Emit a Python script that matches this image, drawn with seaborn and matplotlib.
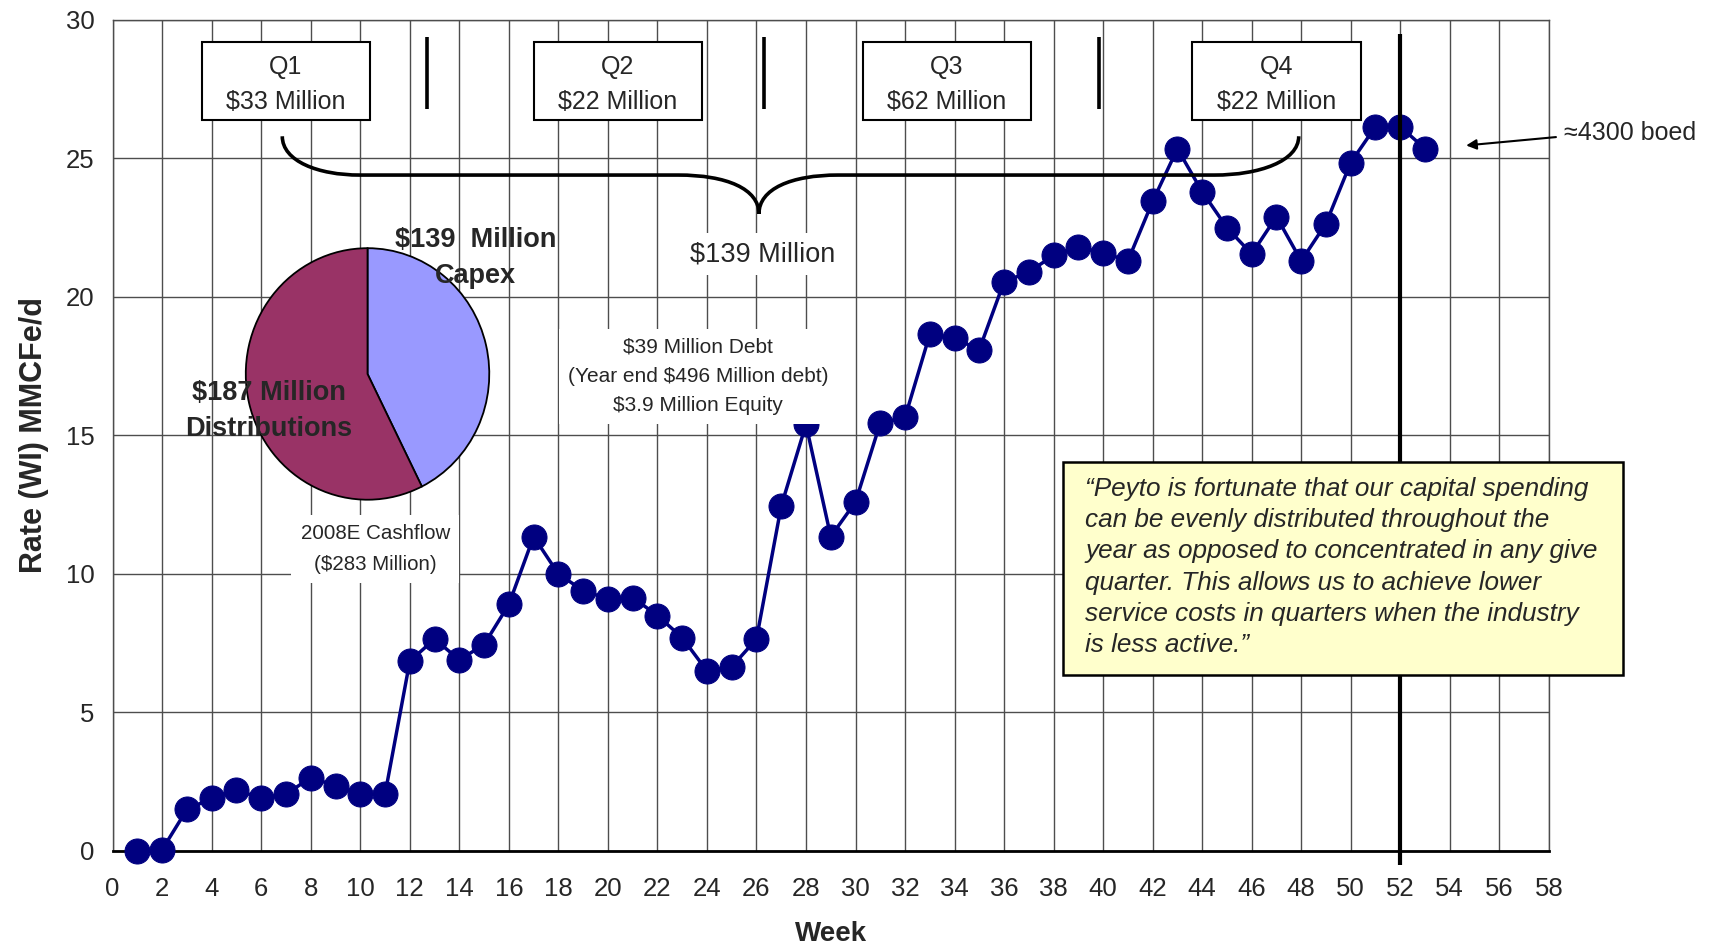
import seaborn as sns
import matplotlib.pyplot as plt
import numpy as np
import pandas as pd
from matplotlib.path import Path
from matplotlib.patches import PathPatch, Rectangle

# weekly production rate
weeks = list(range(1, 54))
rate = [0.0, 0.05, 1.5, 1.9, 2.2, 1.9, 2.05, 2.65, 2.35, 2.05,
        2.05, 6.85, 7.65, 6.9, 7.45, 8.9, 11.35, 10.0, 9.4, 9.1,
        9.15, 8.5, 7.7, 6.5, 6.65, 7.65, 12.45, 15.4, 11.35, 12.6,
        15.45, 15.65, 18.65, 18.5, 18.1, 20.55, 20.9, 21.5, 21.8, 21.6,
        21.3, 23.45, 25.35, 23.8, 22.5, 21.55, 22.9, 21.3, 22.65, 24.85,
        26.15, 26.15, 25.35]

quarters = ["Q1", "Q2", "Q3", "Q4"]
quarter_capex = ["$33 Million", "$22 Million", "$62 Million", "$22 Million"]
quarter_mid = [7.0, 20.4, 33.7, 47.0]
quarter_breaks = [12.7, 26.3, 39.85]

pie_values = [139, 187]
pie_colors = ["#9999FF", "#993366"]

quote = ("\u201cPeyto is fortunate that our capital spending\n"
         "can be evenly distributed throughout the\n"
         "year as opposed to concentrated in any give\n"
         "quarter. This allows us to achieve lower\n"
         "service costs in quarters when the industry\n"
         "is less active.\u201d")

sns.set_style("white")
plt.rcParams['font.family'] = ['Liberation Sans', 'DejaVu Sans']

fig = plt.figure(figsize=(17.15, 9.49), dpi=100)
ax = fig.add_axes([0.0657, 0.1033, 0.8374, 0.8757])

df = pd.DataFrame({"Week": weeks, "Rate": rate})
sns.lineplot(data=df, x="Week", y="Rate", ax=ax, color="#000080", lw=2.5,
             marker="o", markersize=18, markeredgecolor="#000080",
             clip_on=False, zorder=3)

ax.set_xlim(0, 58)
ax.set_ylim(0, 30)
ax.set_xticks(range(0, 59, 2))
ax.set_yticks(range(0, 31, 5))
ax.grid(True, color="#4d4d4d", lw=1)
ax.set_axisbelow(True)
for s in ["top", "right", "left"]:
    ax.spines[s].set_color("#4d4d4d")
    ax.spines[s].set_linewidth(1)
ax.spines["bottom"].set_color("black")
ax.spines["bottom"].set_linewidth(2)
ax.tick_params(direction="out", length=6, width=1, color="black",
               labelsize=18.5)
ax.tick_params(axis="x", pad=13)
ax.tick_params(axis="y", pad=7)
ax.set_xlabel("Week", fontsize=20, fontweight="bold", labelpad=14)
ax.set_ylabel("Rate (WI) MMCFe/d", fontsize=22, fontweight="bold", labelpad=12)

# quarter boxes
for q, c, m in zip(quarters, quarter_capex, quarter_mid):
    ax.add_patch(Rectangle((m - 3.4, 26.4), 6.8, 2.8, facecolor="white",
                           edgecolor="black", lw=1.5, zorder=4))
    ax.text(m, 28.3, q, ha="center", va="center", fontsize=18, zorder=5)
    ax.text(m, 27.05, c, ha="center", va="center", fontsize=18, zorder=5)
ax.vlines(quarter_breaks, 26.8, 29.4, color="black", lw=2.6, zorder=4)

# year end line
ax.vlines([52], -0.5, 29.5, color="black", lw=3, zorder=4, clip_on=False)

# brace
verts = [(6.85, 25.8), (6.85, 24.9), (8.3, 24.4), (9.98, 24.4),
         (22.84, 24.4),
         (24.8, 24.4), (26.1, 23.9), (26.1, 23.0),
         (26.1, 23.9), (27.4, 24.4), (29.3, 24.4),
         (44.5, 24.4),
         (46.3, 24.4), (47.9, 24.9), (47.9, 25.8)]
codes = [Path.MOVETO, Path.CURVE4, Path.CURVE4, Path.CURVE4,
         Path.LINETO,
         Path.CURVE4, Path.CURVE4, Path.CURVE4,
         Path.CURVE4, Path.CURVE4, Path.CURVE4,
         Path.LINETO,
         Path.CURVE4, Path.CURVE4, Path.CURVE4]
ax.add_patch(PathPatch(Path(verts, codes), fill=False, lw=2.6,
                       edgecolor="black", zorder=4))

ax.text(26.24, 21.55, "$139 Million", ha="center", va="center", fontsize=19.5,
        zorder=5, bbox=dict(boxstyle="square,pad=0.3", fc="white", ec="none"))
ax.text(23.63, 17.13, "$39 Million Debt\n(Year end $496 Million debt)\n$3.9 Million Equity",
        ha="center", va="center", fontsize=15, linespacing=1.7, zorder=5,
        bbox=dict(boxstyle="square,pad=0.4", fc="white", ec="none"))
ax.text(10.6, 10.9, "2008E Cashflow\n($283 Million)", ha="center", va="center",
        fontsize=14.8, linespacing=1.75, zorder=5,
        bbox=dict(boxstyle="square,pad=0.45", fc="white", ec="none"))

# quote box
ax.add_patch(Rectangle((38.39, 6.36), 22.61, 7.69, facecolor="#FFFFCC",
                       edgecolor="black", lw=1.8, zorder=6, clip_on=False))
ax.text(39.27, 13.5, quote, ha="left", va="top", fontsize=18.8, style="italic",
        linespacing=1.38, zorder=7, clip_on=False)

# arrow + label
ax.annotate("", xy=(54.55, 25.46), xytext=(58.4, 25.78),
            arrowprops=dict(arrowstyle="-|>", color="black", lw=1.5,
                            mutation_scale=15), annotation_clip=False)
ax.text(58.62, 25.93, "\u22484300 boed", ha="left", va="center", fontsize=18,
        clip_on=False)

# cashflow pie
pax = fig.add_axes([0.1426, 0.4721, 0.1434, 0.2677])
pax.pie(pie_values, colors=pie_colors, startangle=90, counterclock=False,
        wedgeprops=dict(edgecolor="black", linewidth=1.3))
pax.set_aspect("auto")
pax.set_xlim(-1.01, 1.01)
pax.set_ylim(-1.01, 1.01)
pax.axis("off")

fig.text(14.67, 21.4, "$139  Million\nCapex", transform=ax.transData,
         ha="center", va="center", fontsize=19.5, fontweight="bold",
         linespacing=1.5)
fig.text(6.32, 15.87, "$187 Million\nDistributions", transform=ax.transData,
         ha="center", va="center", fontsize=19.5, fontweight="bold",
         linespacing=1.5)

fig.savefig("out.png", dpi=100)
